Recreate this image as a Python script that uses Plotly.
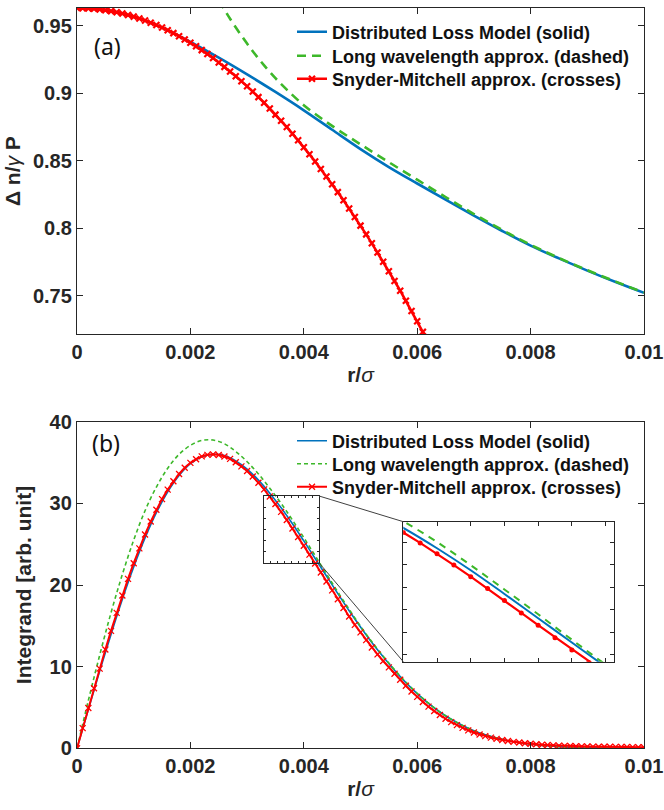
import plotly.graph_objects as go

# ---------------- data ----------------
# Panel (a): Delta n / gamma P versus r/sigma
a_dlm_r = [0.0, 0.0005, 0.001, 0.0015, 0.002, 0.0025, 0.003, 0.0035, 0.004, 0.0045,
           0.005, 0.0055, 0.006, 0.0065, 0.007, 0.0075, 0.008, 0.0085, 0.009, 0.0095, 0.01]
a_dlm_v = [0.963, 0.9614, 0.9566, 0.9486, 0.9378, 0.9262, 0.9138, 0.9008, 0.8872, 0.8728,
           0.8585, 0.8452, 0.8330, 0.8210, 0.8092, 0.7978, 0.7870, 0.7775, 0.7685, 0.7600, 0.7520]

a_lw_r = [0.0025, 0.0027, 0.0029, 0.0031, 0.0033, 0.0035, 0.0037, 0.0040, 0.0043, 0.0046,
          0.0050, 0.0055, 0.0060, 0.0065, 0.0070, 0.0075, 0.0080, 0.0085, 0.0090, 0.0095, 0.0100]
a_lw_v = [0.969, 0.955, 0.9425, 0.931, 0.9205, 0.911, 0.9025, 0.891, 0.8815, 0.8728,
          0.862, 0.8488, 0.8358, 0.8230, 0.8104, 0.7986, 0.7876, 0.7778, 0.7688, 0.7603, 0.7522]

a_sm_r = [i * 0.0001 for i in range(63)]
a_sm_v = [0.9630, 0.9629, 0.9627, 0.9624, 0.9620, 0.9614, 0.9607, 0.9598, 0.9589, 0.9578,
          0.9566, 0.9552, 0.9537, 0.9521, 0.9504, 0.9485, 0.9465, 0.9444, 0.9421, 0.9397,
          0.9372, 0.9346, 0.9318, 0.9289, 0.9259, 0.9227, 0.9194, 0.9160, 0.9125, 0.9088,
          0.9050, 0.9011, 0.8970, 0.8928, 0.8885, 0.8840, 0.8795, 0.8748, 0.8699, 0.8650,
          0.8599, 0.8546, 0.8493, 0.8438, 0.8382, 0.8325, 0.8266, 0.8206, 0.8145, 0.8082,
          0.8018, 0.7953, 0.7887, 0.7819, 0.7750, 0.7680, 0.7608, 0.7536, 0.7461, 0.7386,
          0.7310, 0.7231, 0.7152]

# Panel (b): integrand versus r/sigma
b_dlm_r = [i * 0.0002 for i in range(51)]
b_dlm_v = [0.0, 4.75, 9.45, 13.95, 18.25, 22.2, 25.75, 28.85, 31.4, 33.4,
           34.85, 35.7, 36.0, 35.85, 35.2, 34.2, 32.85, 31.25, 29.45, 27.5,
           25.4, 23.25, 21.1, 18.95, 16.85, 14.85, 12.95, 11.2, 9.55, 8.05,
           6.7, 5.5, 4.45, 3.55, 2.8, 2.15, 1.65, 1.25, 0.93, 0.68,
           0.50, 0.36, 0.26, 0.18, 0.13, 0.09, 0.06, 0.04, 0.03, 0.02, 0.01]

b_lw_r = [i * 0.0002 for i in range(51)]
b_lw_v = [0.0, 5.85, 11.4, 16.6, 21.3, 25.5, 29.1, 32.0, 34.3, 36.0,
          37.1, 37.7, 37.75, 37.3, 36.35, 35.1, 33.6, 31.85, 30.0, 27.95,
          25.8, 23.6, 21.35, 19.15, 17.02, 14.96, 13.05, 11.28, 9.62, 8.1,
          6.74, 5.52, 4.46, 3.56, 2.81, 2.16, 1.66, 1.26, 0.94, 0.69,
          0.50, 0.36, 0.26, 0.18, 0.13, 0.09, 0.06, 0.04, 0.03, 0.02, 0.01]

b_sm_r = [i * 0.0001 for i in range(101)]
b_sm_v = [0.0, 2.47, 4.93, 7.36, 9.76, 12.10, 14.38, 16.59, 18.71, 20.75,
          22.67, 24.49, 26.19, 27.77, 29.21, 30.52, 31.68, 32.71, 33.60, 34.35,
          34.96, 35.41, 35.75, 35.94, 36.00, 35.93, 35.74, 35.45, 35.04, 34.53,
          33.96, 33.29, 32.53, 31.71, 30.84, 29.92, 28.96, 27.96, 26.93, 25.88,
          24.81, 23.72, 22.63, 21.53, 20.43, 19.34, 18.26, 17.19, 16.14, 15.12,
          14.20, 13.25, 12.35, 11.50, 10.69, 9.91, 9.14, 8.40, 7.66, 6.95,
          6.30, 5.68, 5.10, 4.56, 4.07, 3.62, 3.21, 2.84, 2.50, 2.20,
          1.93, 1.70, 1.49, 1.31, 1.15, 1.01, 0.89, 0.79, 0.70, 0.62,
          0.55, 0.49, 0.44, 0.40, 0.36, 0.33, 0.30, 0.28, 0.26, 0.24,
          0.22, 0.21, 0.20, 0.19, 0.18, 0.17, 0.16, 0.15, 0.14, 0.13, 0.12]

x_tickvals = [0, 0.002, 0.004, 0.006, 0.008, 0.01]
x_ticktext = ["0", "0.002", "0.004", "0.006", "0.008", "0.01"]
a_tickvals = [0.75, 0.8, 0.85, 0.9, 0.95]
a_ticktext = ["0.75", "0.8", "0.85", "0.9", "0.95"]
b_tickvals = [0, 10, 20, 30, 40]

names = ["Distributed Loss Model (solid)",
         "Long wavelength approx. (dashed)",
         "Snyder-Mitchell approx. (crosses)"]

# zoom window shown in panel (b) and range of its magnified inset
BOX_X = [0.0033, 0.00427]
BOX_Y = [22.7, 30.9]
INSET_X = [0.0034, 0.00465]
INSET_Y = [19.4, 31.8]

# ---------------- layout geometry (pixels) ----------------
W, H = 664, 810
PX_L, PX_R = 77, 644
A_TOP, A_BOT = 8, 334.3
B_TOP, B_BOT = 421.7, 748.3
IN_L, IN_R, IN_T, IN_B = 403.3, 614, 521.7, 661.7
A_RANGE = [0.7213, 0.963]
B_RANGE = [0, 40]
X_RANGE = [0, 0.01]

def fx(px):
    return px / W

def fy(py):
    return 1 - py / H

def data_to_px_x(v):
    return PX_L + (v - X_RANGE[0]) / (X_RANGE[1] - X_RANGE[0]) * (PX_R - PX_L)

def data_to_px_yb(v):
    return B_BOT - (v - B_RANGE[0]) / (B_RANGE[1] - B_RANGE[0]) * (B_BOT - B_TOP)

box_l = data_to_px_x(BOX_X[0])
box_r = data_to_px_x(BOX_X[1])
box_t = data_to_px_yb(BOX_Y[1])
box_b = data_to_px_yb(BOX_Y[0])

BLUE = "#0072BD"
GREEN = "#3DB82A"
RED = "#FF0000"
AX = "#262626"

fig = go.Figure()

# panel a
fig.add_trace(go.Scatter(x=a_dlm_r, y=a_dlm_v, mode="lines", name=names[0],
                         line=dict(color=BLUE, width=2.6, shape="spline"),
                         xaxis="x", yaxis="y", legend="legend"))
fig.add_trace(go.Scatter(x=a_lw_r, y=a_lw_v, mode="lines", name=names[1],
                         line=dict(color=GREEN, width=2.6, dash="9px,6px", shape="spline"),
                         xaxis="x", yaxis="y", legend="legend2"))
fig.add_trace(go.Scatter(x=a_sm_r, y=a_sm_v, mode="lines+markers", name=names[2],
                         line=dict(color=RED, width=2.6),
                         marker=dict(symbol="x-thin", size=6, line=dict(color=RED, width=2.2)),
                         xaxis="x", yaxis="y", legend="legend3"))

# panel b
fig.add_trace(go.Scatter(x=b_dlm_r, y=b_dlm_v, mode="lines", name=names[0],
                         line=dict(color=BLUE, width=1.6, shape="spline"),
                         xaxis="x2", yaxis="y2", legend="legend4"))
fig.add_trace(go.Scatter(x=b_lw_r, y=b_lw_v, mode="lines", name=names[1],
                         line=dict(color=GREEN, width=1.6, dash="4px,3px", shape="spline"),
                         xaxis="x2", yaxis="y2", legend="legend5"))
fig.add_trace(go.Scatter(x=b_sm_r, y=b_sm_v, mode="lines+markers", name=names[2],
                         line=dict(color=RED, width=2.0),
                         marker=dict(symbol="x-thin", size=6, line=dict(color=RED, width=1.3)),
                         xaxis="x2", yaxis="y2", legend="legend6"))

# inset (magnified view)
fig.add_trace(go.Scatter(x=b_dlm_r, y=b_dlm_v, mode="lines", showlegend=False,
                         line=dict(color=BLUE, width=2.0, shape="spline"),
                         xaxis="x3", yaxis="y3"))
fig.add_trace(go.Scatter(x=b_lw_r, y=b_lw_v, mode="lines", showlegend=False,
                         line=dict(color=GREEN, width=2.0, dash="7px,6px", shape="spline"),
                         xaxis="x3", yaxis="y3"))
fig.add_trace(go.Scatter(x=b_sm_r, y=b_sm_v, mode="lines+markers", showlegend=False,
                         line=dict(color=RED, width=2.2),
                         marker=dict(symbol="circle", size=5, color=RED),
                         xaxis="x3", yaxis="y3"))
# zoom window axes (frame only)
fig.add_trace(go.Scatter(x=[], y=[], showlegend=False, xaxis="x4", yaxis="y4"))

tick_font = dict(family="Liberation Sans, Arial", size=20, color=AX, weight="bold")
title_font = dict(family="Liberation Sans, Arial", size=21, color=AX)

def main_axis(**kw):
    d = dict(showline=True, linecolor=AX, linewidth=1.3, mirror="ticks",
             ticks="inside", ticklen=6, tickwidth=1.2, tickcolor=AX,
             showgrid=False, zeroline=False, tickfont=tick_font, automargin=False)
    d.update(kw)
    return d

layout = dict(
    width=W, height=H, margin=dict(l=0, r=0, t=0, b=0),
    paper_bgcolor="white", plot_bgcolor="rgba(0,0,0,0)",
    xaxis=main_axis(domain=[fx(PX_L), fx(PX_R)], anchor="y", range=X_RANGE,
                    tickvals=x_tickvals, ticktext=x_ticktext,
                    title=dict(text="<b>r/</b><i>σ</i>", font=title_font, standoff=4)),
    yaxis=main_axis(domain=[fy(A_BOT), fy(A_TOP)], anchor="x", range=A_RANGE,
                    tickvals=a_tickvals, ticktext=a_ticktext,
                    title=dict(text="<b>Δ n/</b><i>γ</i><b> P</b>", font=title_font, standoff=6)),
    xaxis2=main_axis(domain=[fx(PX_L), fx(PX_R)], anchor="y2", range=X_RANGE,
                     tickvals=x_tickvals, ticktext=x_ticktext,
                     title=dict(text="<b>r/</b><i>σ</i>", font=title_font, standoff=4)),
    yaxis2=main_axis(domain=[fy(B_BOT), fy(B_TOP)], anchor="x2", range=B_RANGE,
                     tickvals=b_tickvals,
                     title=dict(text="<b>Integrand [arb. unit]</b>", font=title_font, standoff=12)),
    xaxis3=main_axis(domain=[fx(IN_L), fx(IN_R)], anchor="y3", range=INSET_X,
                     dtick=0.0002, tick0=0, showticklabels=False, ticklen=4),
    yaxis3=main_axis(domain=[fy(IN_B), fy(IN_T)], anchor="x3", range=INSET_Y,
                     dtick=2, tick0=0, showticklabels=False, ticklen=4),
    xaxis4=main_axis(domain=[fx(box_l), fx(box_r)], anchor="y4", range=BOX_X,
                     dtick=(BOX_X[1] - BOX_X[0]) / 8, tick0=BOX_X[0],
                     showticklabels=False, ticklen=2, linewidth=1.2),
    yaxis4=main_axis(domain=[fy(box_b), fy(box_t)], anchor="x4", range=BOX_Y,
                     dtick=(BOX_Y[1] - BOX_Y[0]) / 6, tick0=BOX_Y[0],
                     showticklabels=False, ticklen=2, linewidth=1.2),
    shapes=[
        dict(type="line", xref="paper", yref="paper",
             x0=fx(box_r), y0=fy(box_t), x1=fx(IN_L), y1=fy(IN_T),
             line=dict(color="#404040", width=1)),
        dict(type="line", xref="paper", yref="paper",
             x0=fx(box_r), y0=fy(box_b), x1=fx(IN_L), y1=fy(IN_B),
             line=dict(color="#404040", width=1)),
    ],
    annotations=[
        dict(text="(a)", x=fx(92), y=fy(46), xref="paper", yref="paper",
             xanchor="left", yanchor="middle", showarrow=False,
             font=dict(family="Noto Sans", size=23, color="#111111")),
        dict(text="(b)", x=fx(90), y=fy(443), xref="paper", yref="paper",
             xanchor="left", yanchor="middle", showarrow=False,
             font=dict(family="Noto Sans", size=23, color="#111111")),
    ],
)

leg_font = dict(family="Liberation Sans, Arial", size=18, color="#111111", weight="bold")
legend_rows = {"legend": 32, "legend2": 56, "legend3": 79,
               "legend4": 441, "legend5": 464, "legend6": 487}
for key, py in legend_rows.items():
    layout[key] = dict(x=fx(292), y=fy(py), xanchor="left", yanchor="middle",
                       bgcolor="rgba(0,0,0,0)", borderwidth=0, font=leg_font,
                       tracegroupgap=0, itemwidth=30)

fig.update_layout(**layout)
fig.write_html(
    "out.html",
    config={"displayModeBar": False},
    post_script="document.documentElement.style.margin='0';"
                "document.body.style.margin='0';"
                "document.body.style.overflow='hidden';",
)
